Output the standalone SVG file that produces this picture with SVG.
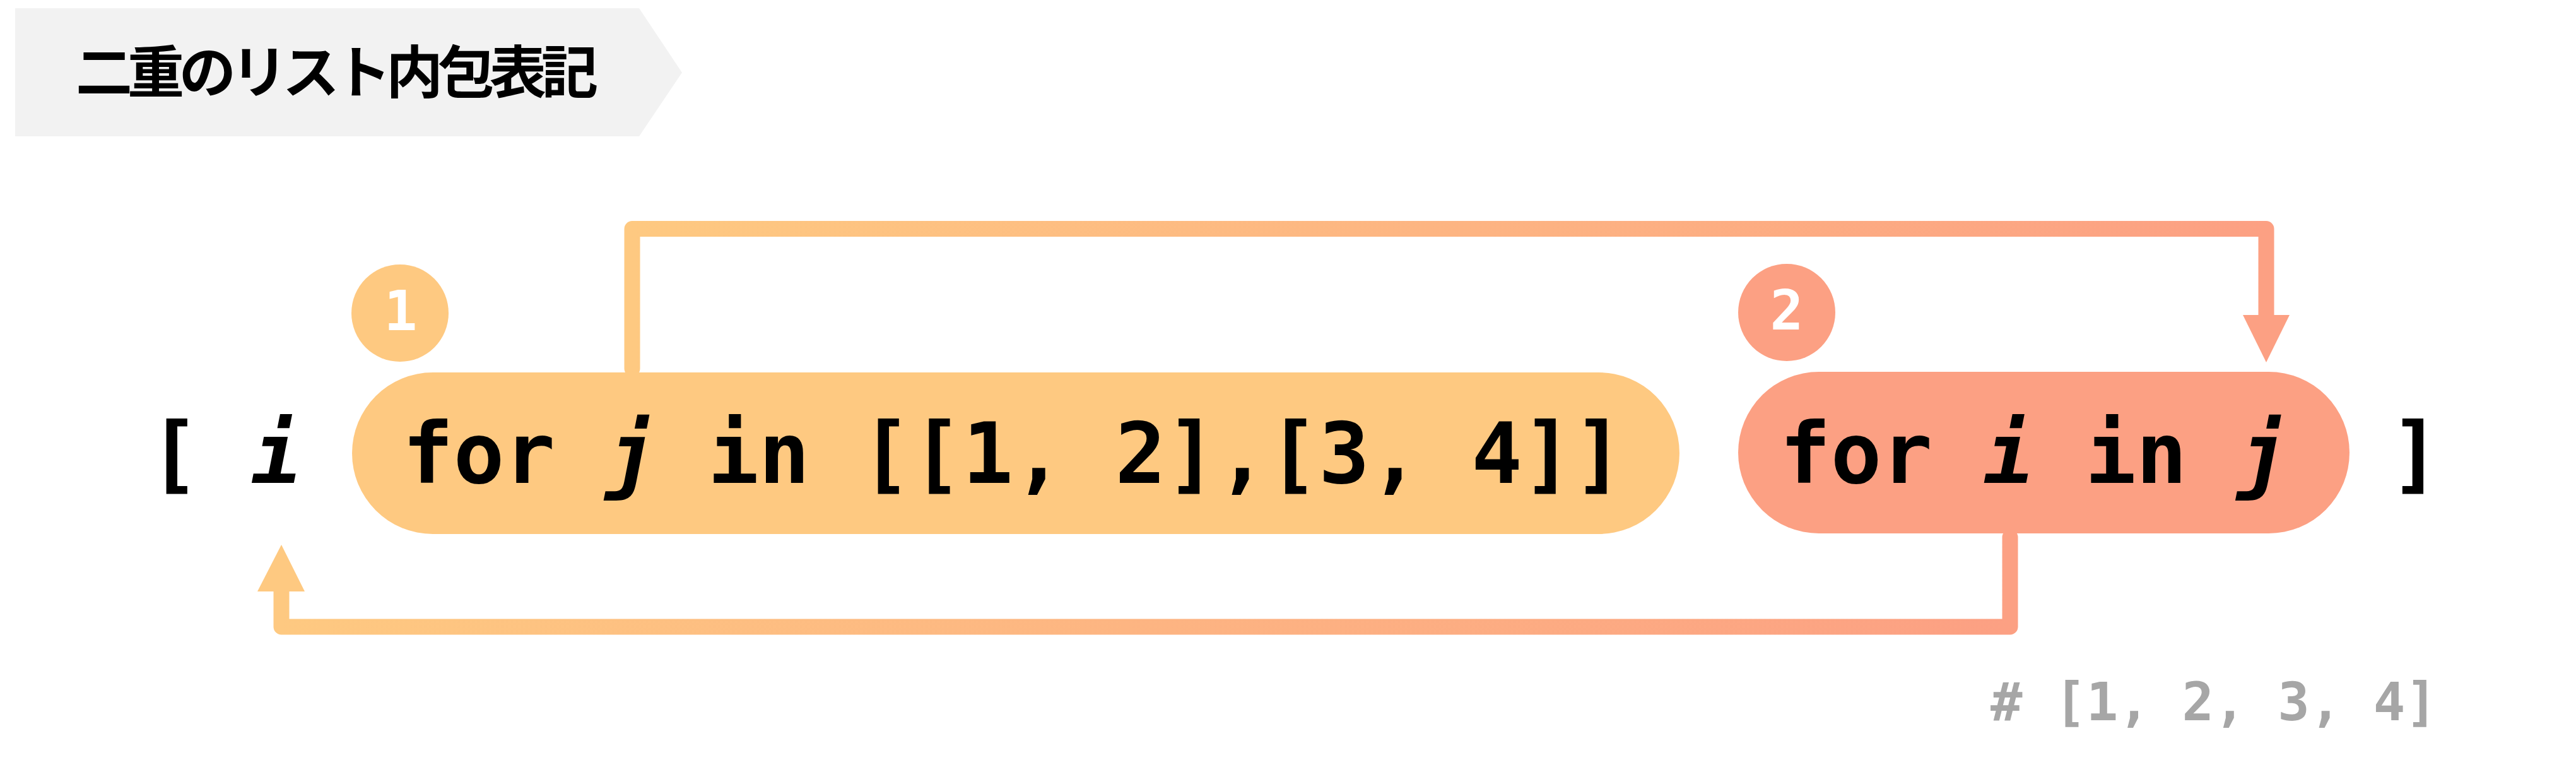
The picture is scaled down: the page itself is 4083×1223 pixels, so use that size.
<svg xmlns="http://www.w3.org/2000/svg" width="4083" height="1223" viewBox="0 0 4083 1223">
  <style>
    .code { font-family: "DejaVu Sans Mono", "Liberation Mono", monospace; font-weight: bold; font-size: 134px; fill: #000; }
    .it { font-style: italic; }
    .badge { font-family: "DejaVu Sans Mono", "Liberation Mono", monospace; font-weight: bold; font-size: 88px; fill: #fff; text-anchor: middle; }
    .title { font-family: "Noto Sans CJK JP", "Noto Sans", sans-serif; font-weight: bold; font-size: 90px; letter-spacing: -8px; fill: #000; }
    .result { font-family: "DejaVu Sans Mono", "Liberation Mono", monospace; font-weight: bold; font-size: 84px; fill: #a6a6a6; }
    .conn { fill: none; stroke-width: 25; stroke-linejoin: round; stroke-linecap: round; }
  </style>
  <defs>
    <linearGradient id="gTop" gradientUnits="userSpaceOnUse" x1="1002" y1="0" x2="3592" y2="0">
      <stop offset="0" stop-color="#fec981"/>
      <stop offset="1" stop-color="#fca083"/>
    </linearGradient>
    <linearGradient id="gBot" gradientUnits="userSpaceOnUse" x1="446" y1="0" x2="3186" y2="0">
      <stop offset="0" stop-color="#fec981"/>
      <stop offset="1" stop-color="#fca083"/>
    </linearGradient>
  </defs>
  <rect width="4083" height="1223" fill="#fff"/>

  <g id="title">
    <polygon points="24,13 1013,13 1081,115 1013,216 24,216" fill="#f2f2f2"/>
    <text class="title" x="120" y="147">二重のリスト内包表記</text>
  </g>

  <g id="connectors">
    <path class="conn" stroke="url(#gTop)" d="M1002,584 V362.5 H3592 V505"/>
    <polygon points="3555,499 3629,499 3592,574" fill="#fca083"/>
    <path class="conn" stroke="url(#gBot)" d="M3186,851 V993 H446 V930"/>
    <polygon points="408,937 483,937 446,863" fill="#fec981"/>
  </g>

  <g id="pill1">
    <rect x="558" y="590" width="2104" height="256" rx="128" fill="#fec981"/>
    <text class="code" x="638" y="765" xml:space="preserve">for <tspan class="it">j</tspan> in [[1, 2],[3, 4]]</text>
  </g>

  <g id="pill2">
    <rect x="2755" y="589" width="969" height="256" rx="128" fill="#fca083"/>
    <text class="code" x="2821" y="765" xml:space="preserve">for <tspan class="it">i</tspan> in <tspan class="it">j</tspan></text>
  </g>

  <g id="badge1">
    <circle cx="634" cy="496" r="77" fill="#fec981"/>
    <text class="badge" x="635" y="523">1</text>
  </g>

  <g id="badge2">
    <circle cx="2832" cy="495" r="77" fill="#fca083"/>
    <text class="badge" x="2832" y="522">2</text>
  </g>

  <g id="expression">
    <text class="code" x="236" y="765">[</text>
    <text class="code it" x="398" y="765">i</text>
    <text class="code" x="3788" y="765">]</text>
  </g>

  <g id="result">
    <text class="result" x="3155" y="1141" xml:space="preserve"># [1, 2, 3, 4]</text>
  </g>
</svg>
